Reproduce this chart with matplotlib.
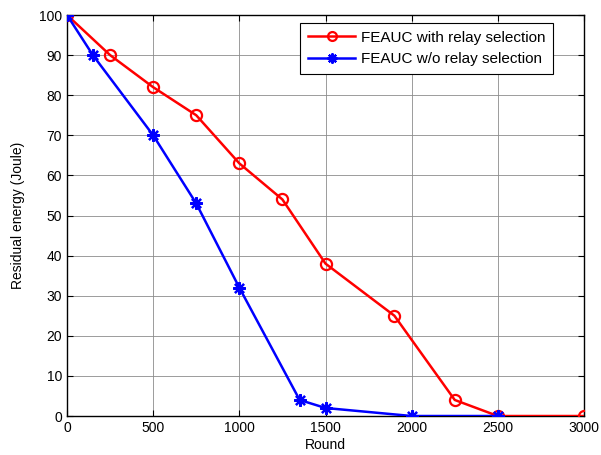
import matplotlib
matplotlib.use("Agg")
import matplotlib.pyplot as plt

plt.rcParams['font.family'] = ['Liberation Sans', 'DejaVu Sans']

red_x = [0, 250, 500, 750, 1000, 1250, 1500, 1900, 2250, 2500, 3000]
red_y = [100, 90, 82, 75, 63, 54, 38, 25, 4, 0, 0]
blue_x = [0, 150, 500, 750, 1000, 1350, 1500, 2000, 2500]
blue_y = [100, 90, 70, 53, 32, 4, 2, 0, 0]
labels = ["FEAUC with relay selection", "FEAUC w/o relay selection"]

fig = plt.figure(figsize=(6.01, 4.55), dpi=100)
ax = fig.add_axes([0.1115, 0.0857, 0.8602, 0.8813])
ax.plot(red_x, red_y, color='red', lw=1.8, marker='o', ms=8, mfc='none', mew=1.6, label=labels[0], zorder=3)
ax.plot(blue_x, blue_y, color='blue', lw=1.8, marker=(8, 2, 0), ms=9, mew=1.6, label=labels[1], zorder=4)

ax.set_xlim(0, 3000)
ax.set_ylim(0, 100)
ax.set_xticks(range(0, 3001, 500))
ax.set_yticks(range(0, 101, 10))
ax.grid(True, color='0.55', lw=0.6, ls='-')
ax.set_axisbelow(True)
ax.tick_params(direction='in', top=True, right=True, labelsize=10, length=4)
for s in ax.spines.values():
    s.set_linewidth(1.0)
ax.set_xlabel("Round", fontsize=10, labelpad=2)
ax.set_ylabel("Residual energy (Joule)", fontsize=10, labelpad=10)
leg = ax.legend(loc='upper right', bbox_to_anchor=(0.94, 0.98), fontsize=11, fancybox=False,
                edgecolor='black', framealpha=1, borderpad=0.5, handlelength=3.1,
                labelspacing=0.5, handletextpad=0.35, borderaxespad=0, markerscale=0.8)
leg.get_frame().set_linewidth(0.8)
fig.savefig("out.png", dpi=100)
